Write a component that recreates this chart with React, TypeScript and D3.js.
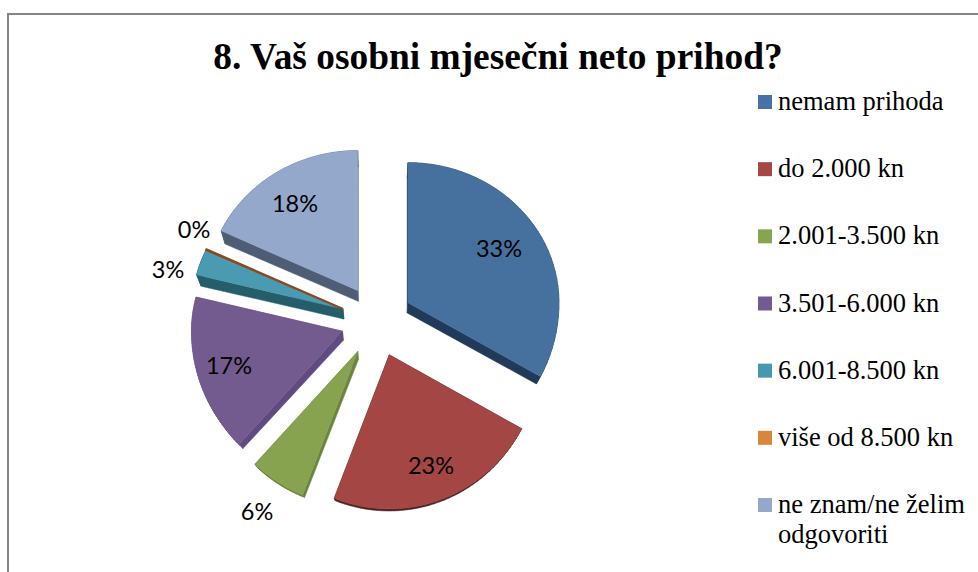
import React from "react";
import * as d3 from "d3";

const categories = ["nemam prihoda", "do 2.000 kn", "2.001-3.500 kn", "3.501-6.000 kn", "6.001-8.500 kn", "više od 8.500 kn", "ne znam/ne želim odgovoriti"];
const values = [33, 23, 6, 17, 3, 0.1, 18];
const labels = ["33%", "23%", "6%", "17%", "3%", "0%", "18%"];
const topColors = ["#46719f", "#a34644", "#87a34f", "#745b8f", "#4a9bb2", "#8a4a20", "#94a8cc"];
const sideColors = ["#223a5a", "#4e2120", "#6c843e", "#5f4a82", "#255e6a", "#7a3f18", "#4e5d75"];
const legendColors = ["#4672a8", "#a84644", "#88a44e", "#735a93", "#4598b0", "#d9853b", "#94a8cc"];
const legendLines = [["nemam prihoda"], ["do 2.000 kn"], ["2.001-3.500 kn"], ["3.501-6.000 kn"], ["6.001-8.500 kn"], ["više od 8.500 kn"], ["ne znam/ne želim", "odgovoriti"]];
const labelAnchors = [[499, 248], [431, 465], [257, 511], [229, 365], [168, 269], [194, 229], [295, 203]];

const W = 978, H = 572;
const cx = 377, cy = 321, explode = 36, rx = 151, ryUp = 140, ryDown = 154;

type Pt = [number, number];
const project = (a: number, r: number): Pt => {
  const c = Math.cos(a);
  return [r * rx * Math.sin(a), -r * c * (c > 0 ? ryUp : ryDown)];
};
const depthAt = ([x, y]: Pt): Pt => {
  const d = Math.max(2, 10 - ((y - 310) / 190) * 7.5);
  return [x + (cx - x) * 0.025, y + d];
};

export default function App() {
  const arcs = d3.pie<number>().sort(null)(values);
  const line = d3.line<Pt>();
  const legendY = d3.scalePoint<number>().domain(d3.range(7)).range([102, 505]);
  return (
    <svg width={W} height={H} style={{ position: "absolute", left: 0, top: 0, background: "#fff" }}>
      <path d={`M8 ${H}V14H${W}`} fill="none" stroke="#868686" strokeWidth={2} />
      <text x={498} y={69} textAnchor="middle" fontFamily="Liberation Serif" fontWeight="bold" fontSize={37.4}>
        8. Vaš osobni mjesečni neto prihod?
      </text>
      {arcs.map((s, i) => {
        const sliver = values[i] < 1;
        const base = sliver ? arcs[i - 1] : s;
        const mid = (base.startAngle + base.endAngle) / 2;
        const ox = cx + explode * Math.sin(mid), oy = cy - explode * Math.cos(mid);
        const steps = d3.range(0, 41).map((k) => s.startAngle + ((s.endAngle - s.startAngle) * k) / 40);
        const outline: Pt[] = [[ox, oy], ...steps.map((a): Pt => {
          const [x, y] = project(a, 1);
          return [ox + x, oy + y];
        })];
        const closed = [...outline, outline[0]];
        return (
          <g key={categories[i]}>
            {!sliver && d3.pairs(closed).map(([p, q], k) => (
              <path key={k} d={(line([p, q, depthAt(q), depthAt(p)]) as string) + "Z"} fill={sideColors[i]} stroke={sideColors[i]} strokeWidth={0.5} />
            ))}
            <path d={(line(outline) as string) + "Z"} fill={topColors[i]} stroke={topColors[i]} strokeWidth={sliver ? 2 : 0.5} />
          </g>
        );
      })}
      {labels.map((t, i) => (
        <text key={i} x={labelAnchors[i][0]} y={labelAnchors[i][1]} textAnchor="middle" dominantBaseline="central" fontFamily="Lato" fontSize={23.5} fill="#000">
          {t}
        </text>
      ))}
      {categories.map((c, i) => (
        <g key={c} transform={`translate(0,${legendY(i)})`}>
          <rect x={758} y={-7} width={14} height={14} fill={legendColors[i]} />
          {legendLines[i].map((l, k) => (
            <text key={k} x={778} y={8 + k * 30} fontFamily="Liberation Serif" fontSize={26.5} fill="#000">{l}</text>
          ))}
        </g>
      ))}
    </svg>
  );
}
